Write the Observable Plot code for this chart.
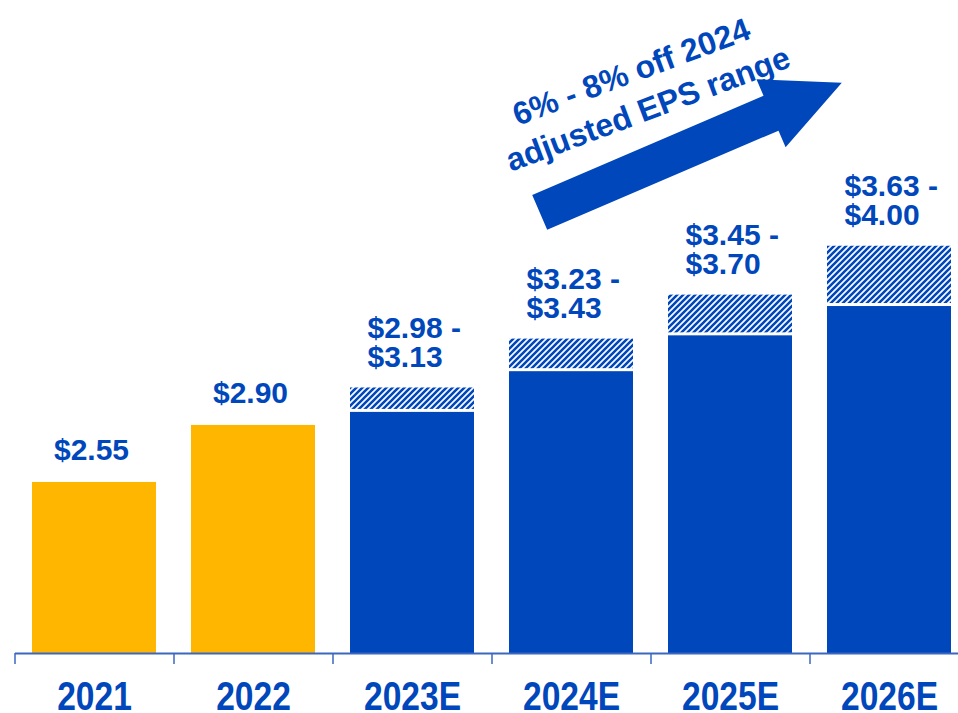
<!DOCTYPE html>
<html><head><meta charset="utf-8">
<script src="https://cdn.jsdelivr.net/npm/d3@7"></script>
<script src="https://cdn.jsdelivr.net/npm/@observablehq/plot@0.6"></script>
<style>body{margin:0;background:#fff;}</style>
</head><body><div id="chart"></div>
<script>
// ---- data ----
const years = ["2021", "2022", "2023E", "2024E", "2025E", "2026E"];
const actualYears = ["2021", "2022"];
const actualValues = [2.55, 2.90];
const guidanceYears = ["2023E", "2024E", "2025E", "2026E"];
const guidanceLow = [2.98, 3.23, 3.45, 3.63];
const guidanceHigh = [3.13, 3.43, 3.70, 4.00];
const arrowLines = ["6% - 8% off 2024", "adjusted EPS range"];
// arrow annotation, in (band index, EPS value) units
const arrowTail = {i: 2.80, v: 4.205};
const arrowTip = {i: 4.70, v: 5.00};
const arrowTextAnchors = [{i: 3.40, v: 5.005}, {i: 3.505, v: 4.778}];

// ---- styling ----
const BLUE = "#0047BB", GOLD = "#FFB600", AXIS = "#3B67C0";
const FONT = "'Liberation Sans', Arial, sans-serif";
const fmt = v => "$" + v.toFixed(2);

const actual = actualYears.map((year, i) => ({year, value: actualValues[i]}));
const guidance = guidanceYears.map((year, i) => ({year, low: guidanceLow[i], high: guidanceHigh[i]}));

const W = 958, H = 713;
const xRange = [15, 969];
const yDomain = [1.5, 5.5];
const yRange = [653, 1.4];
const padIn = 0.22, padOut = 0.11;

const plot = Plot.plot({
  width: W, height: H,
  marginLeft: 15, marginRight: 0, marginTop: 0, marginBottom: 60,
  x: {domain: years, range: xRange, paddingInner: padIn, paddingOuter: padOut, axis: null},
  y: {domain: yDomain, range: yRange, axis: null},
  style: {fontFamily: FONT, background: "#fff", overflow: "visible"},
  marks: [
    Plot.barY(actual, {x: "year", y1: yDomain[0], y2: "value", fill: GOLD}),
    Plot.barY(guidance, {x: "year", y1: yDomain[0], y2: "low", fill: BLUE}),
    Plot.barY(guidance, {x: "year", y1: "low", y2: "high", fill: "url(#hatch)", insetBottom: 3}),
    Plot.text(actual, {x: "year", y: "value", text: d => fmt(d.value), dy: -22, dx: -3,
      lineAnchor: "bottom", fill: BLUE, fontSize: 30, fontWeight: "bold"}),
    Plot.text(guidance, {x: "year", y: "high", text: d => fmt(d.low) + " -\n" + fmt(d.high),
      dx: -45, dy: -21, textAnchor: "start", lineAnchor: "bottom", lineHeight: 0.96,
      fill: BLUE, fontSize: 30, fontWeight: "bold"}),
    Plot.ruleY([yDomain[0]], {stroke: AXIS, strokeWidth: 2}),
    Plot.ruleX(years, {x: d => d, y1: yDomain[0], y2: yDomain[0], insetBottom: -11,
      dx: -79.5, stroke: AXIS, strokeWidth: 1.5}),
    Plot.text(years, {x: d => d, y: yDomain[0], dy: 56, text: d => d, lineAnchor: "bottom",
      fill: BLUE, fontSize: 40, fontWeight: "bold"})
  ]
});

document.getElementById("chart").appendChild(plot);
const svg = d3.select(plot);

// condense the category labels (narrow bold look)
svg.selectAll("text").each(function () {
  if (!years.includes(this.textContent)) return;
  const t = this.getAttribute("transform");
  if (t) {
    this.setAttribute("transform", t + " scale(0.84,1)");
  } else {
    const x = +this.getAttribute("x") || 0;
    this.setAttribute("transform", `translate(${x},0) scale(0.84,1) translate(${-x},0)`);
  }
});

// hatch pattern
const P = 6;
const defs = svg.insert("defs", ":first-child");
const pat = defs.append("pattern").attr("id", "hatch").attr("patternUnits", "userSpaceOnUse")
  .attr("width", P).attr("height", P);
pat.append("rect").attr("width", P).attr("height", P).attr("fill", "#fff");
pat.append("path").attr("d", `M${-P/4},${P/4} L${P/4},${-P/4} M0,${P} L${P},0 M${P*3/4},${P*5/4} L${P*5/4},${P*3/4}`)
  .attr("stroke", BLUE).attr("stroke-width", 2.6);

// arrow annotation using the same scales
const xs = d3.scaleBand().domain(years).range(xRange).paddingInner(padIn).paddingOuter(padOut);
const ys = d3.scaleLinear().domain(yDomain).range(yRange);
const px = i => xs(years[0]) + xs.bandwidth() / 2 + i * xs.step();
const p0 = [px(arrowTail.i), ys(arrowTail.v)];
const p1 = [px(arrowTip.i), ys(arrowTip.v)];
const len = Math.hypot(p1[0] - p0[0], p1[1] - p0[1]);
const u = [(p1[0] - p0[0]) / len, (p1[1] - p0[1]) / len];
const n = [-u[1], u[0]];
const shaftHalf = 19, headHalf = 37, headLen = 77;
const base = [p1[0] - u[0] * headLen, p1[1] - u[1] * headLen];
const pt = (p, k) => [p[0] + n[0] * k, p[1] + n[1] * k];
const poly = [pt(p0, -shaftHalf), pt(base, -shaftHalf), pt(base, -headHalf), p1,
  pt(base, headHalf), pt(base, shaftHalf), pt(p0, shaftHalf)];
svg.append("polygon").attr("points", poly.map(p => p.join(",")).join(" ")).attr("fill", BLUE);

arrowLines.forEach((line, k) => {
  const a = arrowTextAnchors[k];
  const x = px(a.i), y = ys(a.v);
  svg.append("text").attr("x", x).attr("y", y)
    .attr("transform", `rotate(-20.5 ${x} ${y})`)
    .attr("text-anchor", "middle").attr("fill", BLUE)
    .attr("font-family", FONT).attr("font-weight", "bold").attr("font-size", 32)
    .text(line);
});
</script>
</body></html>
